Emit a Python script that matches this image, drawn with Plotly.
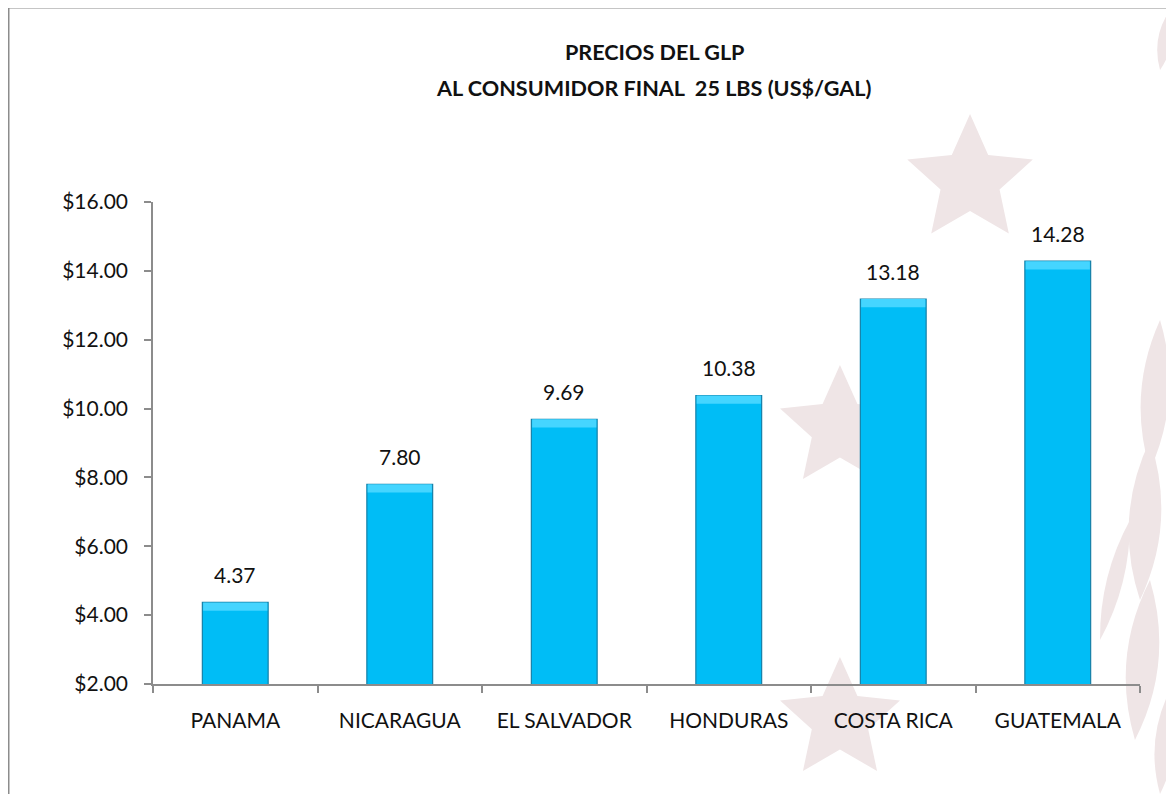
import math
import plotly.graph_objects as go

countries = ["PANAMA", "NICARAGUA", "EL SALVADOR", "HONDURAS", "COSTA RICA", "GUATEMALA"]
prices = [4.37, 7.80, 9.69, 10.38, 13.18, 14.28]
y_ticks = [2, 4, 6, 8, 10, 12, 14, 16]
y_tick_text = [f"${v:.2f}" for v in y_ticks]

FONT = "Lato"
L, T, W, H = 145, 194, 987, 482          # plot area in figure pixels


def px(x, y):
    """screen-pixel position -> paper coordinates (page has 8px body margin)"""
    fx, fy = x - 8, y - 8
    return (fx - L) / W, (T + H - fy) / H


def star_path(cx, cy, r):
    pts = []
    for i in range(10):
        ang = -math.pi / 2 + i * math.pi / 5
        rr = r if i % 2 == 0 else r * 0.47
        pts.append(px(cx + rr * math.cos(ang), cy + rr * math.sin(ang)))
    return "M " + " L ".join(f"{a:.4f},{b:.4f}" for a, b in pts) + " Z"


def blob_path(x0, y0, x1, y1, bulge):
    a0, b0 = px(x0, y0)
    a1, b1 = px(x1, y1)
    mx, my = (x0 + x1) / 2, (y0 + y1) / 2
    dx, dy = x1 - x0, y1 - y0
    n = math.hypot(dx, dy)
    nx, ny = -dy / n * bulge, dx / n * bulge
    c1 = px(mx + nx, my + ny)
    c2 = px(mx - nx, my - ny)
    return (f"M {a0:.4f},{b0:.4f} Q {c1[0]:.4f},{c1[1]:.4f} {a1:.4f},{b1:.4f} "
            f"Q {c2[0]:.4f},{c2[1]:.4f} {a0:.4f},{b0:.4f} Z")


fig = go.Figure()

# faint watermark decoration
WM = "#EFE5E6"
for cx, cy, r in [(970, 180, 66), (840, 428, 63), (840, 720, 63)]:
    fig.add_shape(type="path", path=star_path(cx, cy, r), xref="paper", yref="paper",
                  fillcolor=WM, line=dict(width=0), layer="below")
for x0, y0, x1, y1, b in [(1150, 470, 1160, 320, 28), (1140, 600, 1150, 440, 32),
                          (1135, 740, 1150, 580, 32), (1160, 794, 1170, 690, 20),
                          (1100, 640, 1130, 520, 16), (1160, 70, 1170, 10, 14)]:
    fig.add_shape(type="path", path=blob_path(x0, y0, x1, y1, b), xref="paper", yref="paper",
                  fillcolor=WM, line=dict(width=0), layer="below")

# chart frame
fx0, fy1 = px(8.75, 7.75)
fig.add_shape(type="rect", xref="paper", yref="paper", x0=fx0, x1=1.3, y0=-0.6, y1=fy1,
              line=dict(color="#8C8C8C", width=1.5), layer="below")

fig.add_trace(go.Bar(
    x=countries, y=prices, width=0.4,
    marker=dict(color="#00BDF6", line=dict(color="#1580A8", width=1.2)),
    showlegend=False, hoverinfo="x+y",
))
# top bevel highlight
bevel = 0.24
fig.add_trace(go.Bar(
    x=countries, y=[bevel] * len(prices), base=[p - bevel for p in prices], width=0.39,
    marker=dict(color="#45D5FF", line=dict(width=0)),
    showlegend=False, hoverinfo="skip",
))

for c, v in zip(countries, prices):
    fig.add_annotation(x=c, y=v, text=f"{v:.2f}", showarrow=False, yshift=28,
                       font=dict(family=FONT, size=21, color="#111111"))

tx, ty1 = px(654, 52)
_, ty2 = px(654, 88)
for t, yy in [("PRECIOS DEL GLP", ty1), ("AL CONSUMIDOR FINAL  25 LBS (US$/GAL)", ty2)]:
    fig.add_annotation(x=tx, y=yy, xref="paper", yref="paper", text=f"<b>{t}</b>",
                       showarrow=False, xanchor="center", yanchor="middle",
                       font=dict(family=FONT, size=21.6, color="#111111"))

fig.update_layout(
    width=1174, height=794,
    margin=dict(l=L, r=1174 - L - W, t=T, b=794 - T - H),
    paper_bgcolor="white", plot_bgcolor="rgba(0,0,0,0)",
    font=dict(family=FONT, size=21, color="#111111"),
    barmode="overlay",
)
fig.update_yaxes(range=[2, 16], tickvals=y_ticks, ticktext=y_tick_text,
                 showgrid=False, showline=True, linecolor="#8C8C8C", linewidth=1.5,
                 ticks="outside", ticklen=7, tickcolor="#8C8C8C", tickwidth=1.5,
                 ticklabelstandoff=12,
                 zeroline=False, tickfont=dict(family=FONT, size=21, color="#111111"))
fig.update_xaxes(showgrid=False, showline=True, linecolor="#8C8C8C", linewidth=1.5,
                 ticks="outside", ticklen=7, tickcolor="#8C8C8C", tickwidth=1.5,
                 tickson="boundaries", ticklabelstandoff=17,
                 tickfont=dict(family=FONT, size=21, color="#111111"))

fig.write_html("out.html")
